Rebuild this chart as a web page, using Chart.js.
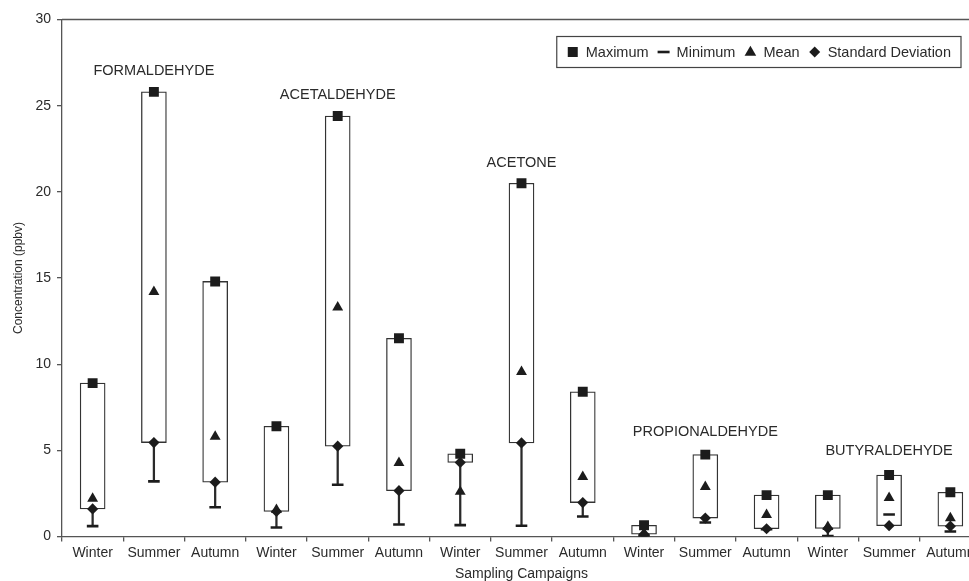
<!DOCTYPE html>
<html>
<head>
<meta charset="utf-8">
<script src="https://cdn.jsdelivr.net/npm/chart.js@4.4.1/dist/chart.umd.min.js"></script>
<style>
  html, body { margin: 0; padding: 0; background: #fff; overflow: hidden; }
  #wrap { position: relative; width: 990px; height: 581px; }
</style>
</head>
<body>
<div id="wrap"><canvas id="c" width="990" height="581"></canvas></div>
<script>
// ---- data ----
const campaigns = ['Winter', 'Summer', 'Autumn', 'Winter', 'Summer', 'Autumn', 'Winter', 'Summer', 'Autumn',
                   'Winter', 'Summer', 'Autumn', 'Winter', 'Summer', 'Autumn'];
const compounds = ['FORMALDEHYDE', 'ACETALDEHYDE', 'ACETONE', 'PROPIONALDEHYDE', 'BUTYRALDEHYDE'];
const maximum = [8.9, 25.8, 14.8, 6.4, 24.4, 11.5, 4.8, 20.5, 8.4, 0.65, 4.75, 2.4, 2.4, 3.57, 2.57];
const minimum = [0.6, 3.2, 1.7, 0.52, 3.0, 0.7, 0.66, 0.62, 1.16, 0.05, 0.81, 0.42, 0.02, 1.28, 0.29];
const mean    = [2.2, 14.2, 5.8, 1.55, 13.3, 4.27, 2.6, 9.55, 3.46, 0.17, 2.88, 1.26, 0.56, 2.25, 1.07];
const stdDev  = [1.6, 5.45, 3.15, 1.45, 5.24, 2.66, 4.3, 5.43, 1.97, 0.13, 1.07, 0.45, 0.47, 0.63, 0.6];
const yTicks  = [0, 5, 10, 15, 20, 25, 30];

// ---- layout of compound captions (category index, y level) ----
const captionAnchor = [1, 4, 7, 10, 13];
const captionLevel  = [27.0, 25.6, 21.7, 6.05, 4.96];

const FONT = '"Liberation Sans", Arial, Helvetica, sans-serif';
const INK = '#1c1c1c';
const TEXT = '#2b2b2b';
const AXIS = '#555';

const boxData = maximum.map((m, i) => [stdDev[i], m]);
const whiskerData = minimum.map((m, i) => (m < stdDev[i] ? [m, stdDev[i]] : null));

function drawSymbol(ctx, kind, cx, cy) {
  ctx.save();
  ctx.fillStyle = INK; ctx.strokeStyle = INK;
  ctx.beginPath();
  if (kind === 'rect') {
    ctx.rect(cx - 5, cy - 5, 10, 10); ctx.fill();
  } else if (kind === 'line') {
    ctx.lineWidth = 2.6; ctx.moveTo(cx - 6, cy); ctx.lineTo(cx + 6, cy); ctx.stroke();
  } else if (kind === 'triangle') {
    ctx.moveTo(cx, cy - 6.2); ctx.lineTo(cx + 5.8, cy + 3.8); ctx.lineTo(cx - 5.8, cy + 3.8); ctx.closePath(); ctx.fill();
  } else {
    ctx.moveTo(cx, cy - 5.5); ctx.lineTo(cx + 5.5, cy); ctx.lineTo(cx, cy + 5.5); ctx.lineTo(cx - 5.5, cy); ctx.closePath(); ctx.fill();
  }
  ctx.restore();
}

const decor = {
  id: 'decor',
  afterDraw(chart) {
    const { ctx, chartArea: a, scales: { x, y } } = chart;
    ctx.save();
    // top frame line
    ctx.strokeStyle = AXIS; ctx.lineWidth = 1.3;
    ctx.beginPath(); ctx.moveTo(a.left, a.top); ctx.lineTo(chart.width, a.top); ctx.stroke();

    // compound captions
    ctx.fillStyle = TEXT;
    ctx.font = '14.5px ' + FONT;
    ctx.textAlign = 'center'; ctx.textBaseline = 'middle';
    compounds.forEach((name, i) => {
      ctx.fillText(name, x.getPixelForValue(captionAnchor[i]), y.getPixelForValue(captionLevel[i]));
    });

    // legend box
    const items = chart.data.datasets.filter(d => d.legendSymbol);
    ctx.font = '14.5px ' + FONT;
    ctx.textAlign = 'left';
    let total = 10;
    items.forEach(d => { total += 12 + 7 + ctx.measureText(d.label).width + 9; });
    total += 1;
    const right = a.right - 20, left = right - total;
    const top = a.top + 17, h = 31, cy = top + h / 2;
    ctx.strokeStyle = '#444'; ctx.lineWidth = 1.2;
    ctx.strokeRect(left, top, total, h);
    let xx = left + 10;
    items.forEach(d => {
      drawSymbol(ctx, d.legendSymbol, xx + 6, cy);
      xx += 19;
      ctx.fillStyle = TEXT;
      ctx.fillText(d.label, xx, cy + 0.5);
      xx += ctx.measureText(d.label).width + 9;
    });
    ctx.restore();
  }
};

const markerBase = { type: 'line', showLine: false, pointHoverRadius: 0, order: 1 };

new Chart(document.getElementById('c'), {
  type: 'bar',
  data: {
    labels: campaigns,
    datasets: [
      { label: 'Box', data: boxData, backgroundColor: '#fff', borderColor: '#333', borderWidth: 1.3,
        borderSkipped: false, barThickness: 25, grouped: false, order: 6 },
      { label: 'Whisker', data: whiskerData, backgroundColor: '#2a2a2a', borderWidth: 0,
        barThickness: 1.6, grouped: false, order: 5 },
      Object.assign({}, markerBase, { label: 'Maximum', legendSymbol: 'rect', data: maximum, pointStyle: 'rect',
        pointRadius: 7, pointBackgroundColor: INK, pointBorderColor: INK, pointBorderWidth: 0 }),
      Object.assign({}, markerBase, { label: 'Minimum', legendSymbol: 'line', data: minimum, pointStyle: 'line',
        pointRadius: 5.8, pointBorderColor: INK, pointBorderWidth: 2.6 }),
      Object.assign({}, markerBase, { label: 'Mean', legendSymbol: 'triangle', data: mean, pointStyle: 'triangle',
        pointRadius: 6.3, pointBackgroundColor: INK, pointBorderColor: INK, pointBorderWidth: 0 }),
      Object.assign({}, markerBase, { label: 'Standard Deviation', legendSymbol: 'diamond', data: stdDev, pointStyle: 'rectRot',
        pointRadius: 5.6, pointBackgroundColor: INK, pointBorderColor: INK, pointBorderWidth: 0 })
    ]
  },
  options: {
    responsive: false,
    animation: false,
    devicePixelRatio: 1,
    layout: { padding: { top: 19.5, right: 9, left: 0, bottom: 0 } },
    plugins: { legend: { display: false }, tooltip: { enabled: false } },
    scales: {
      x: {
        type: 'category',
        offset: true,
        grid: { offset: true, drawOnChartArea: false, drawTicks: true, tickLength: 5, color: AXIS, lineWidth: 1.3 },
        border: { color: AXIS, width: 1.3 },
        ticks: { color: TEXT, font: { family: FONT, size: 14 }, padding: 3, maxRotation: 0, autoSkip: false },
        title: { display: true, text: 'Sampling Campaigns', color: TEXT, font: { family: FONT, size: 14, lineHeight: 1.0 },
                 padding: { top: 0, bottom: 0 } },
        afterFit(s) { s.height = 44.5; }
      },
      y: {
        min: 0, max: 30,
        afterBuildTicks(s) { s.ticks = yTicks.map(v => ({ value: v })); },
        grid: { drawOnChartArea: false, drawTicks: true, tickLength: 5, color: AXIS, lineWidth: 1.3 },
        border: { color: AXIS, width: 1.3 },
        ticks: { color: TEXT, font: { family: FONT, size: 14 }, padding: 6 },
        title: { display: true, text: 'Concentration (ppbv)', color: TEXT, font: { family: FONT, size: 12 },
                 padding: { top: 11, bottom: 0 } },
        afterFit(s) { s.width = 62; }
      }
    }
  },
  plugins: [decor]
});
</script>
</body>
</html>
